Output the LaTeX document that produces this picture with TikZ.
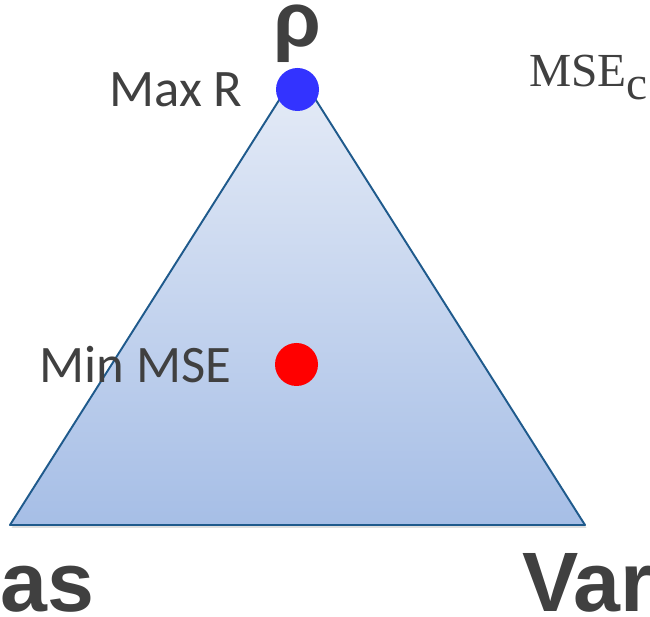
\documentclass[tikz,border=0pt]{standalone}
\usepackage{fontspec}
\usepackage{xcolor}
\usepackage{tikz}
\newfontfamily\carl{Carlito}
\newfontfamily\arialb{Liberation Sans}[BoldFont={* Bold}]
\newfontfamily\timesr{Liberation Serif}
\definecolor{ink}{HTML}{404040}
\definecolor{edge}{HTML}{1F5A8C}
\definecolor{pale}{HTML}{E6ECF7}
\definecolor{deep}{HTML}{A6BEE6}
\definecolor{dotblue}{HTML}{3333FF}
\definecolor{dotred}{HTML}{FF0000}
\begin{document}
\begin{tikzpicture}[x=0.02cm, y=-0.02cm,
  lbl/.style={text=ink, inner sep=0pt, font=\carl\fontsize{30}{36}\selectfont},
  big/.style={text=ink, inner sep=0pt, font=\arialb\bfseries\fontsize{48}{56}\selectfont},
  dot/.style={circle, inner sep=0pt, minimum size=43*0.02cm}]
\clip (0,0) rectangle (650,617);
\coordinate (T) at (297.5,71);
\coordinate (L) at (10,525);
\coordinate (R) at (585,525);
\fill[black!25, opacity=0.5] ([shift={(1.5,3)}]T) -- ([shift={(1.5,3)}]L) -- ([shift={(1.5,3)}]R) -- cycle;
\shade[top color=pale, bottom color=deep] (T) -- (L) -- (R) -- cycle;
\draw[edge, line width=1.1pt, line join=round] (T) -- (L) -- (R) -- cycle;
\node[dot, fill=dotblue] (maxr) at (297.5,89.5) {};
\node[dot, fill=dotred] (minmse) at (296.5,364.5) {};
\node[big, anchor=base, font=\arialb\bfseries\fontsize{44}{50}\selectfont] (rho) at (297.5,47) {ρ};
\node[lbl, anchor=base west] (maxlbl) at (109,107) {Max R};
\node[lbl, anchor=base west] (minlbl) at (39,383) {Min MSE};
\node[text=ink, inner sep=0pt, anchor=base west, font=\timesr\fontsize{27}{32}\selectfont] (msec) at (529,87) {MSE\raisebox{-7.4pt}{c}};
\node[big, anchor=base west] (bias) at (0,612) {as};
\node[big, anchor=base west] (var) at (522,612) {Var};
\end{tikzpicture}
\end{document}
